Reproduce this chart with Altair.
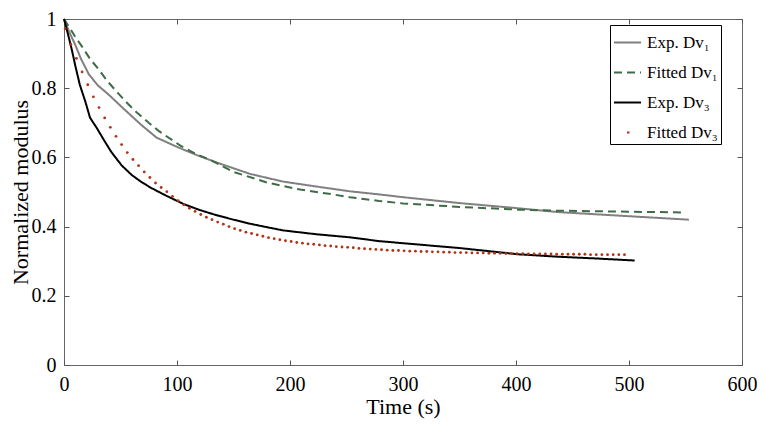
import altair as alt
import pandas as pd

# ---- data ----
t_exp1 = [0, 5, 10, 15, 22, 30, 40, 51, 68, 82, 101, 118, 137, 165, 194, 223, 253,
          279, 300, 350, 402, 437, 500, 553]
v_exp1 = [1.0, 0.96, 0.925, 0.885, 0.84, 0.808, 0.78, 0.746, 0.695, 0.657, 0.629, 0.606,
          0.583, 0.552, 0.53, 0.516, 0.502, 0.493, 0.485, 0.468, 0.453, 0.442, 0.43, 0.42]

t_fit1 = [0, 5, 10, 16, 23, 31, 38, 48, 55, 65, 75, 84, 103, 118, 130, 150, 180, 209,
          238, 253, 279, 300, 350, 402, 437, 500, 548]
v_fit1 = [1.0, 0.975, 0.948, 0.92, 0.885, 0.853, 0.822, 0.785, 0.76, 0.728, 0.7, 0.676,
          0.634, 0.608, 0.592, 0.558, 0.527, 0.507, 0.493, 0.485, 0.474, 0.467, 0.457,
          0.449, 0.446, 0.443, 0.441]

t_exp3 = [0, 4, 7, 10, 14, 19, 23, 29, 35, 42, 51, 60, 68, 77, 90, 106, 120, 136, 150,
          165, 180, 194, 223, 253, 279, 300, 350, 402, 437, 470, 505]
v_exp3 = [1.0, 0.95, 0.91, 0.865, 0.81, 0.76, 0.715, 0.685, 0.652, 0.615, 0.577, 0.549,
          0.53, 0.512, 0.49, 0.465, 0.448, 0.432, 0.42, 0.408, 0.398, 0.389, 0.378, 0.369,
          0.358, 0.352, 0.338, 0.32, 0.313, 0.308, 0.302]

t_fit3 = [1, 6, 11, 16, 21, 26, 31, 36, 41, 46, 51, 56, 61, 66, 71, 76, 81, 86, 91, 96,
          101, 106, 111, 116, 121, 126, 131, 136, 141, 146, 151, 156, 161, 166, 171, 176,
          181, 186, 191, 196, 201, 206, 211, 216, 221, 226, 231, 236, 241, 246, 251, 256,
          261, 266, 271, 276, 281, 286, 291, 296, 301, 306, 311, 316, 321, 326, 331, 336,
          341, 346, 351, 356, 361, 366, 371, 376, 381, 386, 391, 396, 401, 406, 411, 416,
          421, 426, 431, 436, 441, 446, 451, 456, 461, 466, 471, 476, 481, 486, 491, 496]
v_fit3 = [0.972, 0.927, 0.886, 0.847, 0.81, 0.775, 0.744, 0.714, 0.687, 0.661, 0.637,
          0.614, 0.594, 0.576, 0.558, 0.542, 0.526, 0.513, 0.501, 0.487, 0.475, 0.463,
          0.453, 0.444, 0.435, 0.427, 0.42, 0.413, 0.407, 0.4, 0.394, 0.389, 0.384, 0.38,
          0.376, 0.372, 0.368, 0.365, 0.362, 0.359, 0.357, 0.354, 0.352, 0.35, 0.349,
          0.347, 0.345, 0.344, 0.342, 0.341, 0.34, 0.339, 0.337, 0.336, 0.335, 0.334,
          0.333, 0.332, 0.331, 0.331, 0.33, 0.329, 0.329, 0.328, 0.328, 0.327, 0.327,
          0.326, 0.326, 0.325, 0.325, 0.325, 0.324, 0.324, 0.324, 0.323, 0.323, 0.323,
          0.322, 0.322, 0.322, 0.322, 0.321, 0.321, 0.321, 0.321, 0.321, 0.32, 0.32, 0.32,
          0.32, 0.32, 0.32, 0.319, 0.319, 0.319, 0.319, 0.319, 0.319, 0.319]

series_names = ["Exp. Dv\u2081", "Fitted Dv\u2081", "Exp. Dv\u2083", "Fitted Dv\u2083"]
colors = ["#808080", "#3f6b47", "#000000", "#b0341a"]
dashes = [[1, 0], [8, 5], [1, 0], [0, 13, 2.5, 100]]

x_ticks = [0, 100, 200, 300, 400, 500, 600]
y_ticks = [0, 0.2, 0.4, 0.6, 0.8, 1]

# ---- tables ----
rows = []
for name, ts, vs in [(series_names[0], t_exp1, v_exp1),
                     (series_names[1], t_fit1, v_fit1),
                     (series_names[2], t_exp3, v_exp3)]:
    for i, (a, b) in enumerate(zip(ts, vs)):
        rows.append({"t": a, "v": b, "series": name, "order": i})
lines_df = pd.DataFrame(rows)
dots_df = pd.DataFrame({"t": t_fit3, "v": v_fit3})

FONT = "Liberation Serif"
xscale = alt.Scale(domain=[0, 600], nice=False)
yscale = alt.Scale(domain=[0, 1], nice=False)

common = dict(grid=False, domain=False, tickColor="#555555", tickSize=5, offset=-5,
              labelFlush=False, labelFont=FONT, labelFontSize=20, labelColor="black",
              titleFont=FONT, titleFontSize=22, titleFontWeight="normal",
              titleColor="black")

legend = alt.Legend(title=None, orient="none", legendX=546, legendY=6,
                    symbolType="stroke", symbolSize=729, symbolStrokeWidth=2,
                    labelFont=FONT, labelFontSize=17, labelColor="black",
                    strokeColor="black", fillColor="white", padding=3,
                    rowPadding=7, labelOffset=5)

lines = alt.Chart(lines_df).mark_line(strokeWidth=2).encode(
    x=alt.X("t:Q", scale=xscale,
            axis=alt.Axis(title="Time (s)", orient="bottom", values=x_ticks,
                          format="d", labelPadding=9, titlePadding=2, **common)),
    y=alt.Y("v:Q", scale=yscale,
            axis=alt.Axis(title="Normalized modulus", orient="left", values=y_ticks,
                          format="~g", labelPadding=8, titlePadding=-1, **common)),
    color=alt.Color("series:N", scale=alt.Scale(domain=series_names, range=colors),
                    legend=legend),
    strokeDash=alt.StrokeDash("series:N",
                              scale=alt.Scale(domain=series_names, range=dashes),
                              legend=legend),
    order="order:Q",
)

dots = alt.Chart(dots_df).mark_circle(size=8, color=colors[3], opacity=1).encode(
    x=alt.X("t:Q", scale=xscale,
            axis=alt.Axis(orient="top", labels=False, title=None, values=x_ticks,
                          **common)),
    y=alt.Y("v:Q", scale=yscale,
            axis=alt.Axis(orient="right", labels=False, title=None, values=y_ticks,
                          **common)),
)

chart = alt.layer(lines, dots).resolve_axis(
    x="independent", y="independent"
).properties(
    width=678, height=346,
    padding={"left": 56, "top": 11, "right": 15, "bottom": 55},
    autosize=alt.AutoSizeParams(type="none"),
).configure_view(stroke="#666666", strokeWidth=1)

chart.save("out.html", embed_options={"renderer": "svg", "actions": False})
